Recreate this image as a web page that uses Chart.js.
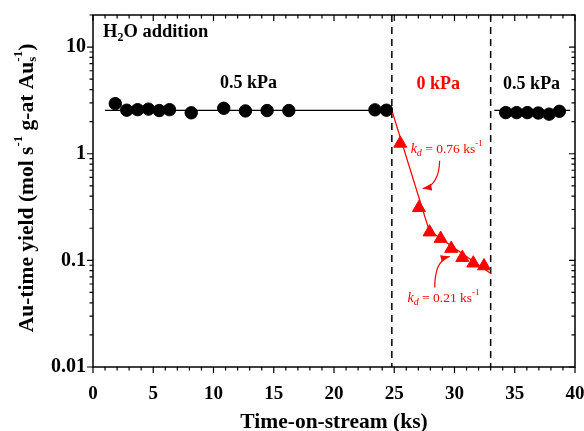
<!DOCTYPE html>
<html><head><meta charset="utf-8">
<script src="https://cdn.jsdelivr.net/npm/chart.js@4/dist/chart.umd.min.js"></script>
<style>html,body{margin:0;padding:0;background:#fff;} canvas{display:block;}</style>
</head><body>
<canvas id="c" width="584" height="431" style="width:584px;height:431px"></canvas>
<script>
// ---- data ----
const blackTime  = [1.85, 2.8, 3.7, 4.6, 5.5, 6.35, 8.15, 10.85, 12.65, 14.45, 16.25, 23.4, 24.35, 34.25, 35.15, 36.05, 36.95, 37.85, 38.7];
const blackYield = [2.95, 2.56, 2.59, 2.62, 2.54, 2.59, 2.42, 2.67, 2.52, 2.54, 2.54, 2.58, 2.56, 2.43, 2.43, 2.43, 2.41, 2.35, 2.5];
const redTime    = [25.5, 27.05, 27.93, 28.85, 29.73, 30.65, 31.56, 32.45];
const redYield   = [1.25, 0.311, 0.184, 0.160, 0.129, 0.106, 0.094, 0.0885];
const fitLeftTime  = [1.0, 24.8];
const fitLeftYield = [2.55, 2.55];
const fitRightTime  = [33.3, 39.6];
const fitRightYield = [2.55, 2.55];
const fitRedTime  = [24.8, 27.9, 33.05];
const fitRedYield = [2.55, 0.19, 0.075];
const switchTimes = [24.8, 33.0];
const xTickValues = [0, 5, 10, 15, 20, 25, 30, 35, 40];
const xTickLabels = ['0', '5', '10', '15', '20', '25', '30', '35', '40'];
const yTickValues = [0.01, 0.1, 1, 10];
const yTickLabels = ['0.01', '0.1', '1', '10'];
const pressureLabels = ['0.5 kPa', '0 kPa', '0.5 kPa'];
const rateLabels = ['0.76', '0.21'];

const F = "'Liberation Serif','Times New Roman',serif";
const RED = '#ff0000';
const pts = (xs, ys) => xs.map((x, i) => ({x: x, y: ys[i]}));

function rich(ctx, segs, x, y, align) {
  let w = 0;
  for (const s of segs) { ctx.font = s[1]; if (!s[3]) w += ctx.measureText(s[0]).width; }
  let cx = align === 'center' ? x - w / 2 : x;
  for (const s of segs) {
    ctx.font = s[1];
    ctx.fillText(s[0], cx, y + (s[2] || 0));
    if (!s[3]) cx += ctx.measureText(s[0]).width;
  }
}
function arrow(ctx, xs, ys, p0, c, p1) {
  const a = [xs.getPixelForValue(p0[0]), ys.getPixelForValue(p0[1])];
  const b = [xs.getPixelForValue(c[0]), ys.getPixelForValue(c[1])];
  const e = [xs.getPixelForValue(p1[0]), ys.getPixelForValue(p1[1])];
  ctx.beginPath(); ctx.moveTo(a[0], a[1]); ctx.quadraticCurveTo(b[0], b[1], e[0], e[1]); ctx.stroke();
  const ang = Math.atan2(e[1] - b[1], e[0] - b[0]);
  const L = 9, W = 3.5;
  ctx.beginPath();
  ctx.moveTo(e[0], e[1]);
  ctx.lineTo(e[0] - L * Math.cos(ang) + W * Math.sin(ang), e[1] - L * Math.sin(ang) - W * Math.cos(ang));
  ctx.lineTo(e[0] - L * Math.cos(ang) - W * Math.sin(ang), e[1] - L * Math.sin(ang) + W * Math.cos(ang));
  ctx.closePath(); ctx.fill();
}

const deco = {
  id: 'deco',
  beforeDatasetsDraw(chart) {
    const {ctx, chartArea: ca, scales: {x}} = chart;
    ctx.save();
    ctx.strokeStyle = '#000'; ctx.lineWidth = 1.5; ctx.setLineDash([7, 5]);
    for (const t of switchTimes) {
      const px = x.getPixelForValue(t);
      ctx.beginPath(); ctx.moveTo(px, ca.top); ctx.lineTo(px, ca.bottom); ctx.stroke();
    }
    ctx.restore();
  },
  afterDraw(chart) {
    const {ctx, chartArea: ca, scales: {x, y}} = chart;
    ctx.save();
    // frame
    ctx.strokeStyle = '#000'; ctx.lineWidth = 1.5;
    ctx.strokeRect(ca.left, ca.top, ca.right - ca.left, ca.bottom - ca.top);
    ctx.lineWidth = 1.2;
    // x ticks
    for (let v = 0; v <= 40; v += 1) {
      const px = x.getPixelForValue(v);
      const L = v % 5 === 0 ? 6 : 3.5;
      ctx.beginPath();
      ctx.moveTo(px, ca.bottom); ctx.lineTo(px, ca.bottom + L);
      ctx.moveTo(px, ca.top); ctx.lineTo(px, ca.top + L);
      ctx.stroke();
    }
    // y ticks
    for (let d = -2; d <= 1; d++) {
      for (let m = 1; m <= 9; m++) {
        const v = m * Math.pow(10, d);
        if (v > 20.0001) continue;
        const py = y.getPixelForValue(v);
        const L = m === 1 ? 6 : 3.5;
        ctx.beginPath();
        ctx.moveTo(ca.left, py); ctx.lineTo(ca.left - L, py);
        ctx.moveTo(ca.right, py); ctx.lineTo(ca.right - L, py);
        ctx.stroke();
      }
    }
    // axis titles
    ctx.fillStyle = '#000'; ctx.textBaseline = 'middle';
    const B21 = 'bold 21.5px ' + F, B13 = 'bold 13px ' + F, B12 = 'bold 12px ' + F;
    rich(ctx, [['Time-on-stream (ks)', B21, 0]], (ca.left + ca.right) / 2, 422, 'center');
    ctx.save();
    ctx.translate(27, (ca.top + ca.bottom) / 2 - 3);
    ctx.rotate(-Math.PI / 2);
    rich(ctx, [['Au-time yield (mol s', B21, 0], ['-1', B13, -8], [' g-at Au', B21, 0], ['s', B13, 6, true], ['-1', B13, -8], [')', B21, 0]], 0, 0, 'center');
    ctx.restore();
    // H2O addition
    const B18 = 'bold 18.5px ' + F;
    rich(ctx, [['H', B18, 0], ['2', B12, 6], ['O addition', B18, 0]], x.getPixelForValue(0.83), y.getPixelForValue(13.8), 'left');
    // pressure labels
    ctx.font = 'bold 18px ' + F;
    ctx.textAlign = 'center';
    ctx.fillText(pressureLabels[0], x.getPixelForValue(12.9), y.getPixelForValue(4.6));
    ctx.fillStyle = RED;
    ctx.fillText(pressureLabels[1], x.getPixelForValue(28.65), y.getPixelForValue(4.5));
    ctx.fillStyle = '#000';
    ctx.fillText(pressureLabels[2], x.getPixelForValue(36.4), y.getPixelForValue(4.5));
    ctx.textAlign = 'left';
    // rate labels
    ctx.fillStyle = RED; ctx.strokeStyle = RED; ctx.lineWidth = 1.2;
    const I15 = 'italic 14px ' + F, I10 = 'italic 10px ' + F, R15 = '13.5px ' + F, R9 = '9px ' + F;
    rich(ctx, [['k', I15, 0], ['d', I10, 4], [' = ' + rateLabels[0] + ' ks', R15, 0], ['-1', R9, -6]], x.getPixelForValue(26.36), y.getPixelForValue(1.1), 'left');
    rich(ctx, [['k', I15, 0], ['d', I10, 4], [' = ' + rateLabels[1] + ' ks', R15, 0], ['-1', R9, -6]], x.getPixelForValue(26.1), y.getPixelForValue(0.044), 'left');
    arrow(ctx, x, y, [28.77, 0.86], [28.7, 0.5], [27.36, 0.471]);
    arrow(ctx, x, y, [28.36, 0.0558], [28.36, 0.1], [29.6, 0.109]);
    ctx.restore();
  }
};

new Chart(document.getElementById('c'), {
  type: 'scatter',
  data: {
    datasets: [
      {data: pts(blackTime, blackYield), pointStyle: 'circle', pointRadius: 6.2, pointBackgroundColor: '#000', pointBorderColor: '#000', showLine: false},
      {data: pts(redTime, redYield), pointStyle: 'triangle', pointRadius: 7.5, pointBackgroundColor: RED, pointBorderColor: RED, showLine: false},
      {data: pts(fitLeftTime, fitLeftYield), showLine: true, borderColor: '#000', borderWidth: 1.3, pointRadius: 0},
      {data: pts(fitRightTime, fitRightYield), showLine: true, borderColor: '#000', borderWidth: 1.3, pointRadius: 0},
      {data: pts(fitRedTime, fitRedYield), showLine: true, borderColor: RED, borderWidth: 1.3, pointRadius: 0}
    ]
  },
  options: {
    responsive: false, devicePixelRatio: 1, animation: false,
    layout: {padding: {top: 15, right: 9, left: 0, bottom: 0}},
    plugins: {legend: {display: false}, tooltip: {enabled: false}},
    scales: {
      x: {
        type: 'linear', min: 0, max: 40,
        grid: {display: false, drawTicks: false}, border: {display: false},
        ticks: {stepSize: 5, padding: 16, color: '#000', font: {family: F, size: 19, weight: 'bold'},
          callback: (v) => { const i = xTickValues.indexOf(v); return i >= 0 ? xTickLabels[i] : ''; }},
        afterFit(s) { s.height = 64; s.paddingLeft = 0; s.paddingRight = 0; }
      },
      y: {
        type: 'logarithmic', min: 0.01, max: 20,
        grid: {display: false, drawTicks: false}, border: {display: false},
        ticks: {autoSkip: false, padding: 7, color: '#000', font: {family: F, size: 20, weight: 'bold'},
          callback: (v) => { const i = yTickValues.findIndex(t => Math.abs(t - v) / t < 1e-6); return i >= 0 ? yTickLabels[i] : ''; }},
        afterFit(s) { s.width = 93; s.paddingTop = 0; s.paddingBottom = 0; }
      }
    }
  },
  plugins: [deco]
});
</script>
</body></html>
